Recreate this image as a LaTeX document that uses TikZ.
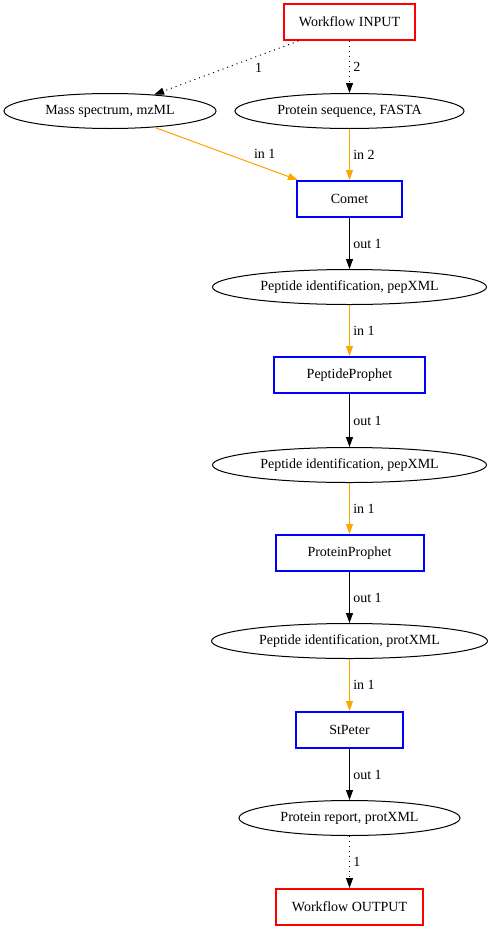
\documentclass[tikz,border=0pt]{standalone}
\usepackage{fontspec}
\setmainfont{Liberation Serif}
\usetikzlibrary{shapes.geometric,arrows.meta}
\definecolor{gvorange}{HTML}{FFA500}

\begin{document}
\begin{tikzpicture}[x=1pt,y=-1pt,font=\fontsize{14}{16}\selectfont,
  io/.style={draw=red,line width=2pt,minimum height=36pt},
  tool/.style={draw=blue,line width=2pt,minimum height=36pt},
  data/.style={draw,ellipse,line width=1pt,minimum height=35pt,inner sep=0pt},
  tip/.style={line width=1pt,-{Triangle[length=10pt,width=7pt]}},
  link/.style={tip,dash pattern=on 1pt off 4pt},
  feed/.style={tip,draw=gvorange,fill=gvorange}]
\useasboundingbox (0,0) rectangle (491,929);
\node[io,minimum width=131pt] (in) at (349.5,22) {Workflow INPUT};
\node[data,minimum width=212pt] (ms) at (110,111) {Mass spectrum, mzML};
\node[data,minimum width=229pt] (fasta) at (349.5,111) {Protein sequence, FASTA};
\node[tool,minimum width=105pt] (comet) at (349.5,199) {Comet};
\node[data,minimum width=274pt] (pep1) at (349.5,287) {Peptide identification, pepXML};
\node[tool,minimum width=151pt] (pp) at (349.5,375) {PeptideProphet};
\node[data,minimum width=274pt] (pep2) at (349.5,465) {Peptide identification, pepXML};
\node[tool,minimum width=148pt] (prp) at (349.5,553) {ProteinProphet};
\node[data,minimum width=276pt] (prot) at (349.5,641) {Peptide identification, protXML};
\node[tool,minimum width=107pt] (stp) at (349.5,730) {StPeter};
\node[data,minimum width=221pt] (rep) at (349.5,818) {Protein report, protXML};
\node[io,minimum width=147pt] (out) at (349.5,907) {Workflow OUTPUT};
\draw[link] (in) -- node[right=25pt] {1} (ms);
\draw[link] (in) -- node[right] {2} (fasta);
\draw[feed] (ms) -- node[right=24pt,text=black] {in 1} (comet);
\draw[feed] (fasta) -- node[right,text=black] {in 2} (comet);
\draw[tip] (comet) -- node[right] {out 1} (pep1);
\draw[feed] (pep1) -- node[right,text=black] {in 1} (pp);
\draw[tip] (pp) -- node[right] {out 1} (pep2);
\draw[feed] (pep2) -- node[right,text=black] {in 1} (prp);
\draw[tip] (prp) -- node[right] {out 1} (prot);
\draw[feed] (prot) -- node[right,text=black] {in 1} (stp);
\draw[tip] (stp) -- node[right] {out 1} (rep);
\draw[link] (rep) -- node[right] {1} (out);
\end{tikzpicture}
\end{document}
